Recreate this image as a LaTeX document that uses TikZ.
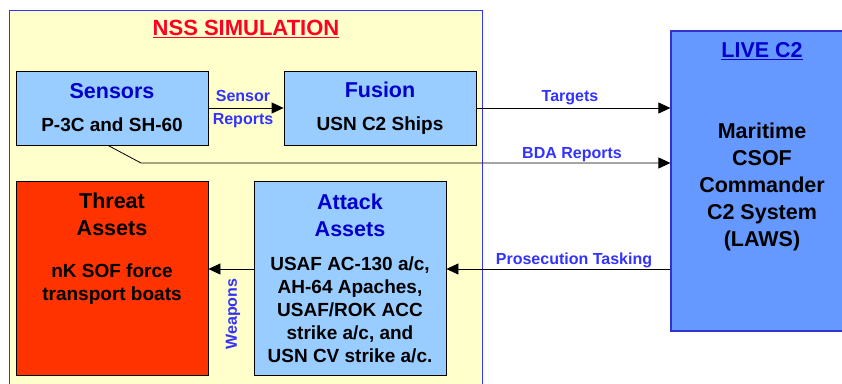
\documentclass[tikz,border=0pt]{standalone}
\usepackage{fontspec}
\setmainfont{Liberation Sans}
\usetikzlibrary{arrows.meta,positioning}
\begin{document}
\begin{tikzpicture}[x=1pt, y=-1pt,
    box/.style={draw=black, line width=0.8pt, minimum width=192pt, align=center, inner sep=0pt},
    body/.style={font=\fontsize{19}{23}\selectfont\bfseries},
    lbl/.style={text=lbl-blue, font=\fontsize{16}{19}\selectfont\bfseries},
    link/.style={line width=0.8pt, -{Triangle[length=12pt,width=11pt]}}]
    \def\hd#1{{\fontsize{21.5}{27}\selectfont #1}}
    \def\bhd#1{\hd{\color{head-blue}#1}}
    \definecolor{nss-yellow}{HTML}{FFFFCC}
    \definecolor{nss-line}{HTML}{3333FF}
    \definecolor{sens-blue}{HTML}{99CCFF}
    \definecolor{live-blue}{HTML}{6699FF}
    \definecolor{live-line}{HTML}{3333CC}
    \definecolor{threat-red}{HTML}{FF3300}
    \definecolor{head-blue}{HTML}{0000CC}
    \definecolor{lbl-blue}{HTML}{3333FF}
    \definecolor{title-red}{HTML}{FF0022}
    \useasboundingbox (0,0) rectangle (842,383);
    \clip (0,0) rectangle (842,383);
    % simulation side
    \draw[draw=nss-line, fill=nss-yellow, line width=0.8pt] (9,10) rectangle (482,400);
    \node[text=title-red, font=\fontsize{22}{26}\selectfont\bfseries] (nss-title) at (246,29) {\underline{NSS SIMULATION}};
    \node[box, body, fill=sens-blue, minimum height=74pt] (sensors) at (112,108) {\bhd{Sensors}\\[10pt]P-3C and SH-60};
    \node[box, body, fill=sens-blue, minimum height=74pt] (fusion) at (380,108) {\bhd{Fusion}\\[10pt]USN C2 Ships};
    \node[box, fill=threat-red, minimum height=194pt] (threat) at (112,278) {};
    \node[body, align=center] (threat-text) at (112,249) {\hd{Threat}\\[4pt]\hd{Assets}\\[19pt]nK SOF force\\transport boats};
    \node[box, body, fill=sens-blue, minimum height=194pt] (attack) at (350,278)
      {\bhd{Attack}\\[4pt]\bhd{Assets}\\[11pt]USAF AC-130 a/c,\\AH-64 Apaches,\\USAF/ROK ACC\\strike a/c, and\\USN CV strike a/c.};
    % live side
    \node[draw=live-line, line width=1.2pt, fill=live-blue, minimum width=182pt, minimum height=300pt, inner sep=0pt] (live) at (762,181) {};
    \node[text=head-blue, font=\fontsize{21.5}{26}\selectfont\bfseries] (live-title) at (762,51) {\underline{LIVE C2}};
    \node[align=center, font=\fontsize{21.5}{27}\selectfont\bfseries] (live-text) at (762,187) {Maritime\\CSOF\\Commander\\C2 System\\(LAWS)};
    % connectors
    \coordinate (bda-bend) at (141,163);
    \coordinate (task-in) at ([yshift=9pt]attack.east);
    \coordinate (wpn-out) at ([yshift=9pt]attack.west);
    \draw[link] (sensors) -- (fusion);
    \draw[link] (fusion.east) -- (fusion.east -| live.west);
    \draw[link] ([xshift=-4pt]sensors.south) -- (bda-bend) -- (bda-bend -| live.west);
    \draw[link] (task-in -| live.west) -- (task-in);
    \draw[link] (wpn-out) -- (wpn-out -| threat.east);
    % labels
    \node[lbl, align=center] (sens-lbl) at (243,109) {Sensor\\[4pt]Reports};
    \node[lbl] (tgt-lbl) at (570,98) {Targets};
    \node[lbl] (bda-lbl) at (572,155) {BDA Reports};
    \node[lbl] (task-lbl) at (574,260) {Prosecution Tasking};
    \node[lbl, rotate=90] (wpn-lbl) at (233,314) {Weapons};
\end{tikzpicture}
\end{document}
